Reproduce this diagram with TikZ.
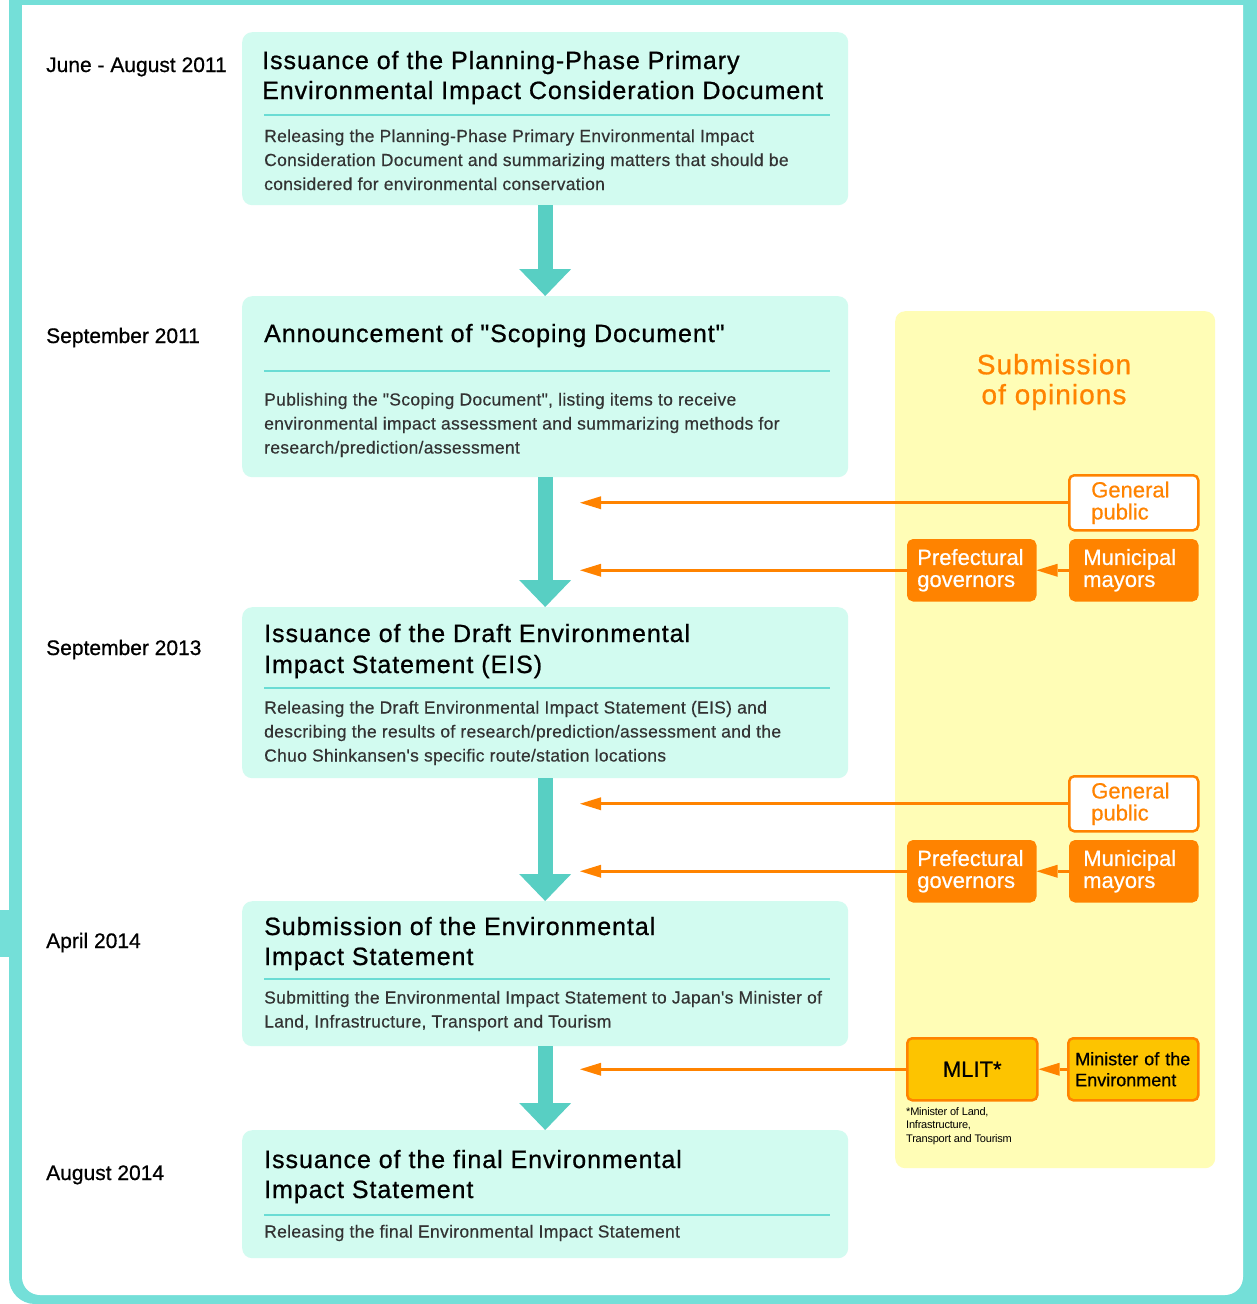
\documentclass[tikz,border=0pt]{standalone}
\usepackage{fontspec}
\setmainfont{Liberation Sans}
\newfontfamily\ttlf[LetterSpace=3.8,FakeBold=0.8]{Liberation Sans}
\newfontfamily\bdyf[LetterSpace=1.7,FakeBold=0.4]{Liberation Sans}
\newfontfamily\datf[FakeBold=0.7]{Liberation Sans}
\newfontfamily\boxf[FakeBold=0.6]{Liberation Sans}
\newfontfamily\smf[LetterSpace=-2]{Liberation Sans}
\usetikzlibrary{arrows.meta}
\definecolor{framec}{HTML}{74DFD8}
\definecolor{mint}{HTML}{D2FBF0}
\definecolor{sepc}{HTML}{6ADCD4}
\definecolor{tealarr}{HTML}{58CFC3}
\definecolor{yellowp}{HTML}{FFFDB6}
\definecolor{orangec}{HTML}{FF8300}
\definecolor{mlitc}{HTML}{FDC400}
\definecolor{bodyc}{HTML}{333333}
\tikzset{
  stepbox/.style={fill=mint, rounded corners=10pt, draw=none, anchor=north west, minimum width=606pt, inner sep=0pt},
  datelbl/.style={anchor=base west, inner sep=0pt, font=\datf\fontsize{21}{24}\selectfont, text=black},
  ttl/.style={anchor=base west, inner sep=0pt, font=\ttlf\fontsize{25}{30}\selectfont, text=black},
  bdy/.style={anchor=base west, inner sep=0pt, font=\bdyf\fontsize{17.5}{24}\selectfont, text=bodyc},
  sepline/.style={draw=sepc, line width=2.5pt},
  tealflow/.style={draw=tealarr, line width=15pt, -{Triangle[length=27pt,width=52pt,line width=0pt]}},
  oflow/.style={draw=orangec, line width=3pt, -{Triangle[length=21pt,width=13pt,line width=0pt]}},
  ofill/.style={fill=orangec, draw=orangec, line width=2.5pt, rounded corners=5pt, text=white, align=left,
    font=\boxf\fontsize{22}{22}\selectfont, minimum height=60pt, inner ysep=0pt, anchor=north west},
  owhite/.style={fill=white, draw=orangec, line width=2.5pt, rounded corners=5pt, text=orangec, align=left,
    font=\boxf\fontsize{22}{22}\selectfont, minimum height=55pt, inner ysep=0pt, anchor=north west},
  ymin/.style={fill=mlitc, draw=orangec, line width=2.5pt, rounded corners=5pt, text=black,
    minimum height=62pt, inner ysep=0pt, anchor=north west},
}
\begin{document}
\begin{tikzpicture}[x=1pt,y=-1pt]
\useasboundingbox (0,0) rectangle (1257,1304);
% frame
\begin{scope}
\clip (0,0) rectangle (1257,1304);
\fill[framec, rounded corners=26pt] (9,-60) rectangle (1300,1304);
\fill[white, rounded corners=18pt] (22,-40) rectangle (1243,1295);
\fill[framec] (9,0) rectangle (1257,5);
\fill[framec] (0,910) rectangle (9,957);
\end{scope}

% yellow panel
\node[fill=yellowp, rounded corners=10pt, anchor=north west, minimum width=320pt, minimum height=857pt, inner sep=0pt] (panel) at (895,311) {};
\node[text=orangec, align=center, font=\ttlf\fontsize{28}{30}\selectfont, inner sep=0pt] (subm) at (1054,382) {Submission\\of opinions};

% step boxes
\node[stepbox, minimum height=173pt] (b1) at (242,32) {};
\node[stepbox, minimum height=181pt] (b2) at (242,296) {};
\node[stepbox, minimum height=171pt] (b3) at (242,607) {};
\node[stepbox, minimum height=145pt] (b4) at (242,901) {};
\node[stepbox, minimum height=128pt] (b5) at (242,1130) {};

% dates
\node[datelbl] (d1) at (46,72) {June - August 2011};
\node[datelbl] (d2) at (46,343) {September 2011};
\node[datelbl] (d3) at (46,655) {September 2013};
\node[datelbl] (d4) at (46,948) {April 2014};
\node[datelbl] (d5) at (46,1180) {August 2014};

% box 1
\node[ttl] (t1a) at (262,69) {Issuance of the Planning-Phase Primary};
\node[ttl] (t1b) at (262,99) {Environmental Impact Consideration Document};
\draw[sepline] (264,115) -- (830,115);
\node[bdy] (p1a) at (264,142) {Releasing the Planning-Phase Primary Environmental Impact};
\node[bdy] (p1b) at (264,166) {Consideration Document and summarizing matters that should be};
\node[bdy] (p1c) at (264,190) {considered for environmental conservation};

% box 2
\node[ttl] (t2a) at (264,342) {Announcement of "Scoping Document"};
\draw[sepline] (264,371) -- (830,371);
\node[bdy] (p2a) at (264,405.5) {Publishing the "Scoping Document", listing items to receive};
\node[bdy] (p2b) at (264,429.5) {environmental impact assessment and summarizing methods for};
\node[bdy] (p2c) at (264,453.5) {research/prediction/assessment};

% box 3
\node[ttl] (t3a) at (264,642) {Issuance of the Draft Environmental};
\node[ttl] (t3b) at (264,673) {Impact Statement (EIS)};
\draw[sepline] (264,688) -- (830,688);
\node[bdy] (p3a) at (264,713.5) {Releasing the Draft Environmental Impact Statement (EIS) and};
\node[bdy] (p3b) at (264,737.5) {describing the results of research/prediction/assessment and the};
\node[bdy] (p3c) at (264,761.5) {Chuo Shinkansen's specific route/station locations};

% box 4
\node[ttl] (t4a) at (264,935) {Submission of the Environmental};
\node[ttl] (t4b) at (264,965) {Impact Statement};
\draw[sepline] (264,979) -- (830,979);
\node[bdy] (p4a) at (264,1003.5) {Submitting the Environmental Impact Statement to Japan's Minister of};
\node[bdy] (p4b) at (264,1027.5) {Land, Infrastructure, Transport and Tourism};

% box 5
\node[ttl] (t5a) at (264,1168) {Issuance of the final Environmental};
\node[ttl] (t5b) at (264,1198) {Impact Statement};
\draw[sepline] (264,1215) -- (830,1215);
\node[bdy] (p5a) at (264,1237.5) {Releasing the final Environmental Impact Statement};

% teal flow arrows
\draw[tealflow] (b1.south) -- (b2.north);
\draw[tealflow] (b2.south) -- (b3.north);
\draw[tealflow] (b3.south) -- (b4.north);
\draw[tealflow] (b4.south) -- (b5.north);

% opinion sources, round 1
\node[owhite, text width=85pt, inner xsep=22pt] (gp1) at (1068,474) {General\\public};
\node[ofill, text width=109pt, inner xsep=9pt] (pg1) at (907,539) {Prefectural\\governors};
\node[ofill, text width=101pt, inner xsep=13pt] (mm1) at (1069,539) {Municipal\\mayors};
% round 2
\node[owhite, text width=85pt, inner xsep=22pt] (gp2) at (1068,775) {General\\public};
\node[ofill, text width=109pt, inner xsep=9pt] (pg2) at (907,840) {Prefectural\\governors};
\node[ofill, text width=101pt, inner xsep=13pt] (mm2) at (1069,840) {Municipal\\mayors};
% ministers
\node[ymin, minimum width=130pt, font=\boxf\fontsize{22}{22}\selectfont] (mlit) at (906,1037) {MLIT*};
\node[ymin, text width=116pt, inner xsep=7pt, align=left, font=\boxf\fontsize{18}{21}\selectfont] (moe) at (1067,1037) {Minister of the\\Environment};
\node[anchor=north west, inner sep=0pt, align=left, font=\smf\fontsize{11}{13.5}\selectfont] (note) at (906,1107) {*Minister of Land,\\Infrastructure,\\Transport and Tourism};

% free ends of opinion arrows
\coordinate (e1) at (gp1.west -| 580,0);
\coordinate (e2) at (pg1.west -| 580,0);
\coordinate (e3) at (gp2.west -| 580,0);
\coordinate (e4) at (pg2.west -| 580,0);
\coordinate (e5) at (mlit.west -| 580,0);

\draw[oflow] (gp1.west) -- (e1);
\draw[oflow] (pg1.west) -- (e2);
\draw[oflow] (mm1.west) -- (pg1.east);
\draw[oflow] (gp2.west) -- (e3);
\draw[oflow] (pg2.west) -- (e4);
\draw[oflow] (mm2.west) -- (pg2.east);
\draw[oflow] (mlit.west) -- (e5);
\draw[oflow] (moe.west) -- (mlit.east);
\end{tikzpicture}
\end{document}
